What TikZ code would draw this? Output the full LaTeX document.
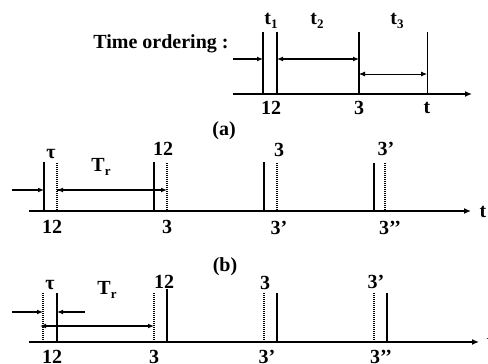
\documentclass[tikz,border=0pt]{standalone}
\usepackage{fontspec}
\setmainfont{Liberation Serif}
\usetikzlibrary{arrows.meta}
\newcommand{\lsub}[2]{#1\raisebox{-4pt}{\fontsize{13}{13}\selectfont #2}}
\begin{document}
\begin{tikzpicture}[x=1pt,y=-1pt,
  lbl/.style={font=\bfseries\fontsize{20}{20}\selectfont, inner sep=0pt},
  bar/.style={line width=1.6pt},
  thinbar/.style={line width=0.9pt},
  dbar/.style={line width=1.6pt, dash pattern=on 1pt off 1pt},
  axis/.style={line width=1.3pt,-{Latex[length=7pt,width=6pt]}},
  arr/.style={line width=1.3pt,-{Latex[length=6pt,width=5pt]}},
  darr/.style={line width=1.3pt,{Latex[length=6pt,width=5pt]}-{Latex[length=6pt,width=5pt]}},
  tdarr/.style={line width=0.9pt,{Latex[length=6pt,width=5pt]}-{Latex[length=6pt,width=5pt]}},
]
\useasboundingbox (0,0) rectangle (488,364);

% ---------- (a) time ordering ----------
\node[lbl] (title) at (161,44) {Time ordering :};
\coordinate (a1t) at (263,32); \coordinate (a1b) at (263,94);
\coordinate (a2t) at (277,32); \coordinate (a2b) at (277,94);
\coordinate (a3t) at (359,32); \coordinate (a3b) at (359,94);
\coordinate (a4t) at (427,32); \coordinate (a4b) at (427,94);
\coordinate (ax0) at (233,94); \coordinate (ax1) at (472,94);
\draw[bar] (a1t) -- (a1b);
\draw[bar] (a2t) -- (a2b);
\draw[bar] (a3t) -- (a3b);
\draw[thinbar] (a4t) -- (a4b);
\draw[axis] (ax0) -- (ax1);
\coordinate (aA0) at (233,59); \coordinate (aA1) at (263,59);
\coordinate (aB0) at (277,59); \coordinate (aB1) at (359,59);
\coordinate (aC0) at (359,74); \coordinate (aC1) at (427,74);
\draw[arr] (aA0) -- (aA1);
\draw[darr] (aB0) -- (aB1);
\draw[tdarr] (aC0) -- (aC1);
\node[lbl] (t1) at (271,21) {\lsub{t}{1}};
\node[lbl] (t2) at (317,21) {\lsub{t}{2}};
\node[lbl] (t3) at (397,21) {\lsub{t}{3}};
\node[lbl] (a12) at (271,108) {12};
\node[lbl] (a3) at (359,108) {3};
\node[lbl] (at) at (427,108) {t};
\node[lbl] (capa) at (224,131) {(a)};

% ---------- (b) upper ----------
\coordinate (bx0) at (29,211); \coordinate (bx1) at (471,211);
\draw[axis] (bx0) -- (bx1);
\node[lbl] (bt) at (483,212) {t};
\draw[bar]  (44,162) coordinate (b1t) -- (44,211) coordinate (b1b);
\draw[dbar] (57,163) coordinate (b2t) -- (57,211) coordinate (b2b);
\draw[bar]  (154,162) coordinate (b3t) -- (154,211) coordinate (b3b);
\draw[dbar] (167,163) coordinate (b4t) -- (167,211) coordinate (b4b);
\draw[bar]  (264,162) coordinate (b5t) -- (264,211) coordinate (b5b);
\draw[dbar] (277,163) coordinate (b6t) -- (277,211) coordinate (b6b);
\draw[bar]  (374,163) coordinate (b7t) -- (374,211) coordinate (b7b);
\draw[dbar] (385,163) coordinate (b8t) -- (385,211) coordinate (b8b);
\coordinate (bA0) at (12,190); \coordinate (bA1) at (44,190);
\coordinate (bB0) at (78,190); \coordinate (bB1) at (57,190);
\coordinate (bC1) at (167,190);
\draw[arr] (bA0) -- (bA1);
\draw[arr] (bB0) -- (bB1);
\draw[arr] (bB1) -- (bC1);
\node[lbl] (btau) at (51,154) {τ};
\node[lbl] (bTr) at (101,167) {\lsub{T}{r}};
\node[lbl] (b12u) at (163,149) {12};
\node[lbl] (b3u) at (279,150) {3};
\node[lbl] (b3pu) at (386,149) {3’};
\node[lbl] (b12d) at (52,227) {12};
\node[lbl] (b3d) at (167,227) {3};
\node[lbl] (b3pd) at (279,228) {3’};
\node[lbl] (b3ppd) at (390,228) {3’’};
\node[lbl] (capb) at (225,267) {(b)};

% ---------- (b) lower ----------
\coordinate (cx0) at (29,342); \coordinate (cx1) at (479,342);
\draw[axis] (cx0) -- (cx1);
\node[lbl] (ct) at (490,342) {t};
\draw[dbar] (43,293) coordinate (c1t) -- (43,342) coordinate (c1b);
\draw[bar]  (57,293) coordinate (c2t) -- (57,342) coordinate (c2b);
\draw[dbar] (154,293) coordinate (c3t) -- (154,342) coordinate (c3b);
\draw[bar]  (167,289) coordinate (c4t) -- (167,342) coordinate (c4b);
\draw[dbar] (264,293) coordinate (c5t) -- (264,342) coordinate (c5b);
\draw[bar]  (277,293) coordinate (c6t) -- (277,342) coordinate (c6b);
\draw[dbar] (374,293) coordinate (c7t) -- (374,342) coordinate (c7b);
\draw[bar]  (387,293) coordinate (c8t) -- (387,342) coordinate (c8b);
\coordinate (cA0) at (12,312); \coordinate (cA1) at (43,312);
\coordinate (cB0) at (85,312); \coordinate (cB1) at (57,312);
\coordinate (cC0) at (40,326); \coordinate (cC1) at (154,326);
\draw[arr] (cA0) -- (cA1);
\draw[arr] (cB0) -- (cB1);
\draw[darr] (cC0) -- (cC1);
\node[lbl] (ctau) at (50,285) {τ};
\node[lbl] (cTr) at (107,290) {\lsub{T}{r}};
\node[lbl] (c12u) at (164,282) {12};
\node[lbl] (c3u) at (265,283) {3};
\node[lbl] (c3pu) at (376,282) {3’};
\node[lbl] (c12d) at (52,357) {12};
\node[lbl] (c3d) at (154,357) {3};
\node[lbl] (c3pd) at (267,357) {3’};
\node[lbl] (c3ppd) at (381,357) {3’’};
\end{tikzpicture}
\end{document}
